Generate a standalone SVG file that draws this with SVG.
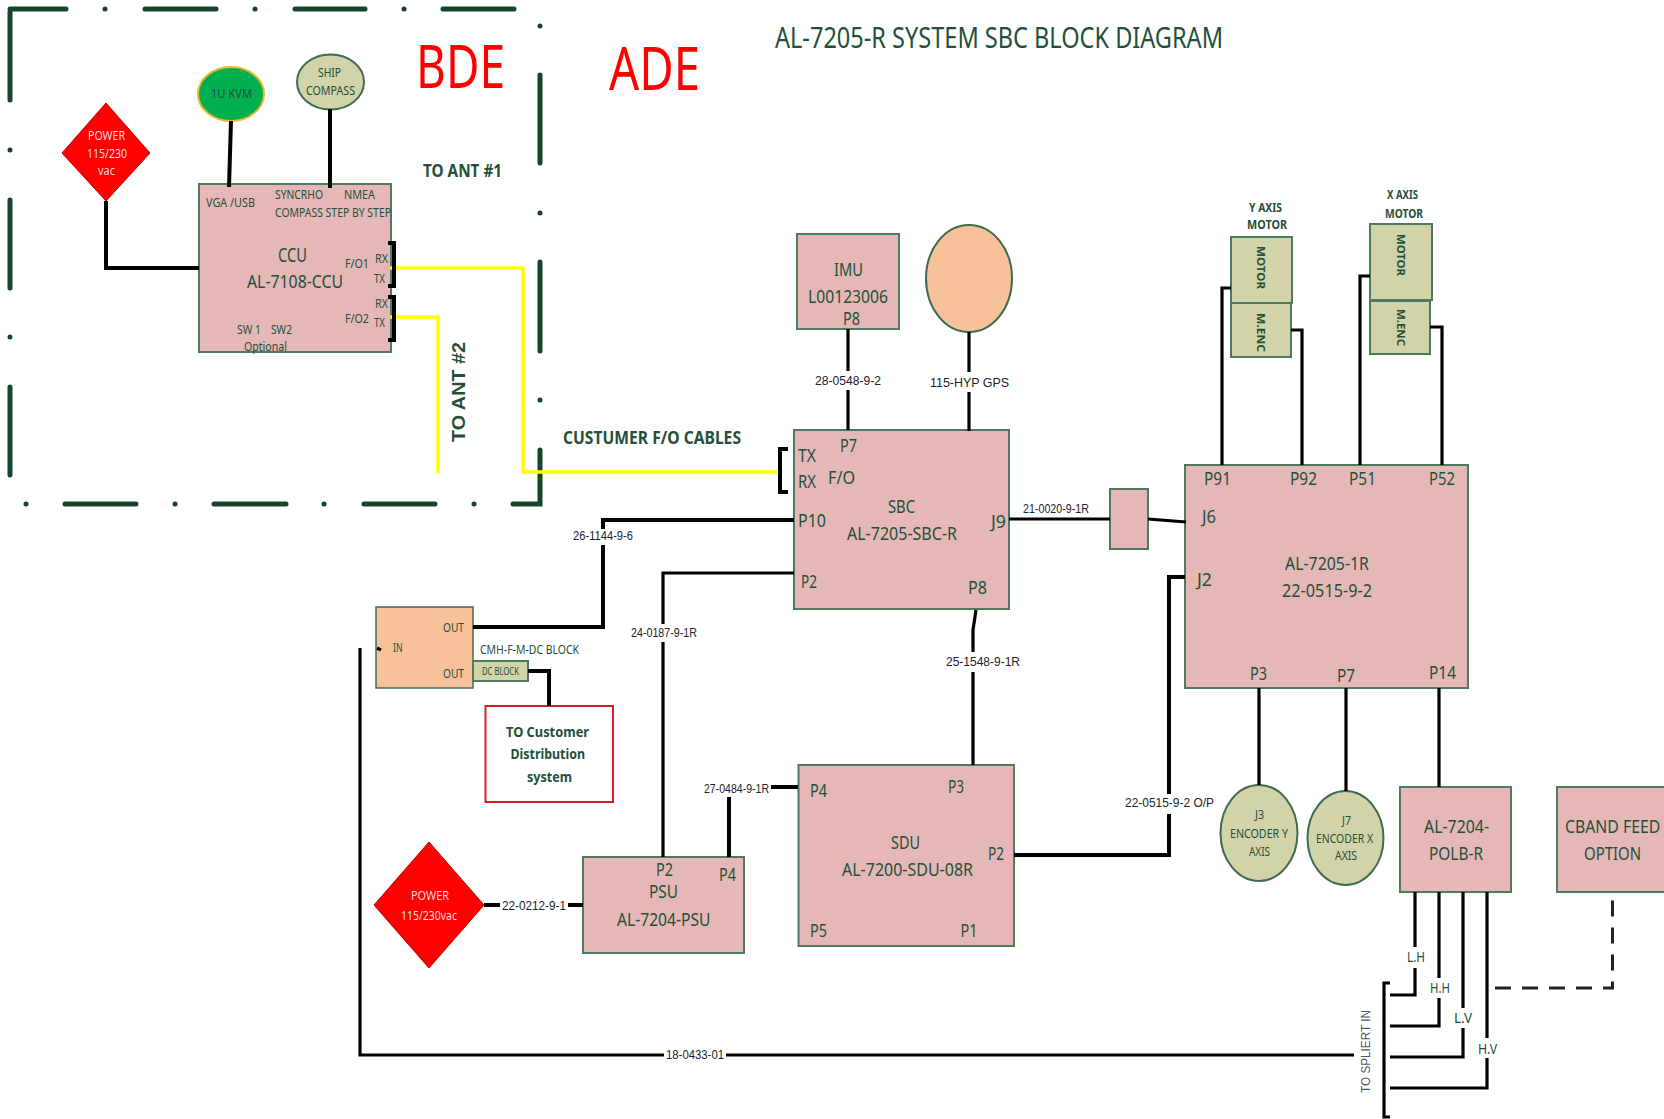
<svg xmlns="http://www.w3.org/2000/svg" width="1664" height="1119" viewBox="0 0 1664 1119">
<style>
text{font-family:"Noto Sans","Open Sans","Liberation Sans",sans-serif;fill:#24503a;font-size:18px}
.b{font-weight:700}
.s11{font-size:11px}.s12{font-size:12px}.s13{font-size:13px}.s15{font-size:15px}
.lbl{font-family:"Liberation Sans",Arial,sans-serif;fill:#1a2430;font-size:13px}
.w{fill:#ffd9de}
.box{fill:#e5b8b7;stroke:#4f7a5f;stroke-width:2}
.olive{fill:#d2d3a8;stroke:#4f7a5f;stroke-width:2}
.peach{fill:#f7c29a;stroke:#3f6b50;stroke-width:2}
.diamond{fill:#ff0000;stroke:#c00000;stroke-width:1}
.frame{fill:none;stroke:#17452b;stroke-width:5;stroke-linecap:round}
.wire{fill:none;stroke:#000;stroke-width:3.2}
.thick{fill:none;stroke:#000;stroke-width:4}
.fo{fill:none;stroke:#ffff00;stroke-width:3.5}
.dash{fill:none;stroke:#222;stroke-width:3;stroke-dasharray:16 11}
</style>

<g id="boundary">
<path class="frame" d="M10,100V12M10,200V288M10,387V475M10,150v.1M10,337v.1M10,9H66M145,9H216M295,9H365M443,9H514M105,9h.1M255,9h.1M404,9h.1M540,26v.1M540,75V163M540,213v.1M540,262V351M540,400v.1M540,450V504H513M26,504h.1M175,504h.1M324,504h.1M474,504h.1M65,504H136M214,504H286M364,504H435"/>
</g>

<g id="titles">
<text x="775" y="48" style="font-size:29px" textLength="448" lengthAdjust="spacingAndGlyphs">AL-7205-R SYSTEM SBC BLOCK DIAGRAM</text>
<text x="416" y="88" style="font-size:60px;fill:#ff0000" textLength="89" lengthAdjust="spacingAndGlyphs">BDE</text>
<text x="609" y="90" style="font-size:60px;fill:#ff0000" textLength="91" lengthAdjust="spacingAndGlyphs">ADE</text>
</g>

<g id="power-bde">
<polygon class="diamond" points="106,103 150,153 106,201 62,153"/>
<text class="s13 w" x="88" y="140" textLength="37" lengthAdjust="spacingAndGlyphs">POWER</text>
<text class="s13 w" x="87" y="158" textLength="40" lengthAdjust="spacingAndGlyphs">115/230</text>
<text class="s13 w" x="98" y="175" textLength="17" lengthAdjust="spacingAndGlyphs">vac</text>
</g>
<g id="kvm">
<ellipse cx="231" cy="94" rx="33" ry="27" fill="#00b050" stroke="#e8b830" stroke-width="2"/>
<text class="s13" x="211" y="98" textLength="41" lengthAdjust="spacingAndGlyphs">1U KVM</text>
</g>
<g id="compass">
<ellipse cx="330.500" cy="82" rx="33.500" ry="27.500" fill="#d2d3a8" stroke="#3f6b50" stroke-width="2"/>
<text class="s13" x="318" y="77" textLength="23" lengthAdjust="spacingAndGlyphs">SHIP</text>
<text class="s13" x="306" y="95" textLength="49" lengthAdjust="spacingAndGlyphs">COMPASS</text>
</g>
<g id="ccu">
<rect class="box" x="199" y="184" width="192" height="168"/>
<text class="s13" x="206" y="207" textLength="49" lengthAdjust="spacingAndGlyphs">VGA /USB</text>
<text class="s13" x="275" y="199" textLength="48" lengthAdjust="spacingAndGlyphs">SYNCRHO</text>
<text class="s13" x="344" y="199" textLength="31" lengthAdjust="spacingAndGlyphs">NMEA</text>
<text class="s13" x="275" y="217" textLength="116" lengthAdjust="spacingAndGlyphs">COMPASS STEP BY STEP</text>
<text x="278" y="262" style="font-size:19px" textLength="29" lengthAdjust="spacingAndGlyphs">CCU</text>
<text transform="translate(247,288) scale(.85,1)" style="font-size:19px" textLength="113" lengthAdjust="spacingAndGlyphs">AL-7108-CCU</text>
<text class="s13" x="345" y="268" textLength="24" lengthAdjust="spacingAndGlyphs">F/O1</text>
<text class="s12" x="375" y="263" textLength="13" lengthAdjust="spacingAndGlyphs">RX</text>
<text class="s12" x="374" y="283" textLength="11" lengthAdjust="spacingAndGlyphs">TX</text>
<text class="s13" x="345" y="323" textLength="24" lengthAdjust="spacingAndGlyphs">F/O2</text>
<text class="s12" x="375" y="308" textLength="13" lengthAdjust="spacingAndGlyphs">RX</text>
<text class="s12" x="374" y="327" textLength="11" lengthAdjust="spacingAndGlyphs">TX</text>
<text class="s13" x="237" y="334" textLength="24" lengthAdjust="spacingAndGlyphs">SW 1</text>
<text class="s13" x="271" y="334" textLength="21" lengthAdjust="spacingAndGlyphs">SW2</text>
<text class="s13" x="244" y="351" textLength="43" lengthAdjust="spacingAndGlyphs">Optional</text>
</g>
<g id="imu">
<rect class="box" x="797" y="234" width="102" height="95"/>
<text x="834" y="276" textLength="29" lengthAdjust="spacingAndGlyphs">IMU</text>
<text x="808" y="303" textLength="80" lengthAdjust="spacingAndGlyphs">L00123006</text>
<text x="843" y="325" textLength="17" lengthAdjust="spacingAndGlyphs">P8</text>
</g>
<g id="gps">
<ellipse class="peach" cx="969" cy="278.500" rx="43" ry="53.500"/>
</g>
<g id="sbc">
<rect class="box" x="794" y="430" width="215" height="179"/>
<text x="840" y="452" textLength="17" lengthAdjust="spacingAndGlyphs">P7</text>
<text x="798" y="462" textLength="18" lengthAdjust="spacingAndGlyphs">TX</text>
<text x="798" y="488" textLength="18" lengthAdjust="spacingAndGlyphs">RX</text>
<text x="828" y="484" textLength="27" lengthAdjust="spacingAndGlyphs">F/O</text>
<text x="798" y="527" textLength="28" lengthAdjust="spacingAndGlyphs">P10</text>
<text x="888" y="513" textLength="27" lengthAdjust="spacingAndGlyphs">SBC</text>
<text x="847" y="540" textLength="110" lengthAdjust="spacingAndGlyphs">AL-7205-SBC-R</text>
<text x="991" y="528" textLength="15" lengthAdjust="spacingAndGlyphs">J9</text>
<text x="801" y="588" textLength="16" lengthAdjust="spacingAndGlyphs">P2</text>
<text x="968" y="594" textLength="19" lengthAdjust="spacingAndGlyphs">P8</text>
</g>
<g id="adapter">
<rect class="box" x="1110" y="489" width="38" height="60"/>
</g>
<g id="al-7205-1r">
<rect class="box" x="1185" y="465" width="283" height="223"/>
<text x="1204" y="485" textLength="27" lengthAdjust="spacingAndGlyphs">P91</text>
<text x="1290" y="485" textLength="27" lengthAdjust="spacingAndGlyphs">P92</text>
<text x="1349" y="485" textLength="27" lengthAdjust="spacingAndGlyphs">P51</text>
<text x="1429" y="485" textLength="26" lengthAdjust="spacingAndGlyphs">P52</text>
<text x="1202" y="523" textLength="14" lengthAdjust="spacingAndGlyphs">J6</text>
<text x="1197" y="586" textLength="15" lengthAdjust="spacingAndGlyphs">J2</text>
<text x="1285" y="570" textLength="84" lengthAdjust="spacingAndGlyphs">AL-7205-1R</text>
<text x="1282" y="597" textLength="90" lengthAdjust="spacingAndGlyphs">22-0515-9-2</text>
<text x="1250" y="680" textLength="17" lengthAdjust="spacingAndGlyphs">P3</text>
<text x="1337" y="682" textLength="18" lengthAdjust="spacingAndGlyphs">P7</text>
<text x="1429" y="679" textLength="27" lengthAdjust="spacingAndGlyphs">P14</text>
</g>
<g id="motor-y">
<text class="s12 b" x="1249" y="212" textLength="33" lengthAdjust="spacingAndGlyphs">Y AXIS</text>
<text class="s12 b" x="1247" y="229" textLength="40" lengthAdjust="spacingAndGlyphs">MOTOR</text>
<rect class="olive" x="1231" y="237" width="61" height="66"/>
<rect class="olive" x="1231" y="303" width="60" height="54"/>
<text class="s11 b" transform="translate(1257,246) rotate(90)" textLength="43" lengthAdjust="spacingAndGlyphs">MOTOR</text>
<text class="s11 b" transform="translate(1257,313) rotate(90)" textLength="39" lengthAdjust="spacingAndGlyphs">M.ENC</text>
</g>
<g id="motor-x">
<text class="s12 b" x="1387" y="199" textLength="31" lengthAdjust="spacingAndGlyphs">X AXIS</text>
<text class="s12 b" x="1385" y="218" textLength="38" lengthAdjust="spacingAndGlyphs">MOTOR</text>
<rect class="olive" x="1370" y="224" width="62" height="76"/>
<rect class="olive" x="1370" y="301" width="60" height="53"/>
<text class="s11 b" transform="translate(1397,234) rotate(90)" textLength="42" lengthAdjust="spacingAndGlyphs">MOTOR</text>
<text class="s11 b" transform="translate(1397,309) rotate(90)" textLength="37" lengthAdjust="spacingAndGlyphs">M.ENC</text>
</g>
<g id="splitter">
<rect x="376" y="607" width="97" height="81" fill="#f7c29a" stroke="#3f6b50" stroke-width="1.500"/>
<text class="s13" x="443" y="632" textLength="21" lengthAdjust="spacingAndGlyphs">OUT</text>
<text class="s13" x="393" y="652" textLength="9.500" lengthAdjust="spacingAndGlyphs">IN</text>
<text class="s13" x="443" y="678" textLength="21" lengthAdjust="spacingAndGlyphs">OUT</text>
</g>
<g id="dc-block">
<text class="s13" x="480" y="654" textLength="99" lengthAdjust="spacingAndGlyphs">CMH-F-M-DC BLOCK</text>
<rect class="olive" x="473" y="661" width="55" height="20"/>
<text class="s11" x="482" y="675" textLength="37" lengthAdjust="spacingAndGlyphs">DC BLOCK</text>
</g>
<g id="customer">
<rect x="485.500" y="706" width="127.500" height="96" fill="#fff" stroke="#d0202c" stroke-width="2"/>
<text class="b s15" x="506" y="737" textLength="83" lengthAdjust="spacingAndGlyphs">TO Customer</text>
<text class="b s15" x="510.500" y="759" textLength="74.500" lengthAdjust="spacingAndGlyphs">Distribution</text>
<text class="b s15" x="527" y="782" textLength="45" lengthAdjust="spacingAndGlyphs">system</text>
</g>
<g id="power-ade">
<polygon class="diamond" points="429,842 484,905 429,968 374,905"/>
<text class="s13 w" x="411" y="900" textLength="38" lengthAdjust="spacingAndGlyphs">POWER</text>
<text class="s13 w" x="401" y="920" textLength="56" lengthAdjust="spacingAndGlyphs">115/230vac</text>
</g>
<g id="psu">
<rect class="box" x="583" y="857" width="161" height="96"/>
<text x="656" y="876" textLength="17" lengthAdjust="spacingAndGlyphs">P2</text>
<text x="719" y="881" textLength="17" lengthAdjust="spacingAndGlyphs">P4</text>
<text x="649" y="898" textLength="29" lengthAdjust="spacingAndGlyphs">PSU</text>
<text x="617" y="926" textLength="93.500" lengthAdjust="spacingAndGlyphs">AL-7204-PSU</text>
</g>
<g id="sdu">
<rect class="box" x="798.500" y="765" width="215.500" height="181"/>
<text x="810" y="797" textLength="17" lengthAdjust="spacingAndGlyphs">P4</text>
<text x="948" y="793" textLength="16" lengthAdjust="spacingAndGlyphs">P3</text>
<text x="891" y="849" textLength="29" lengthAdjust="spacingAndGlyphs">SDU</text>
<text x="842" y="876" textLength="131" lengthAdjust="spacingAndGlyphs">AL-7200-SDU-08R</text>
<text x="988" y="860" textLength="16" lengthAdjust="spacingAndGlyphs">P2</text>
<text x="810" y="937" textLength="17" lengthAdjust="spacingAndGlyphs">P5</text>
<text x="960.500" y="937" textLength="17" lengthAdjust="spacingAndGlyphs">P1</text>
</g>
<g id="encoder-y">
<ellipse cx="1259" cy="833" rx="38.500" ry="48" fill="#d2d3a8" stroke="#3f6b50" stroke-width="2"/>
<text class="s12" x="1255" y="819" textLength="9" lengthAdjust="spacingAndGlyphs">J3</text>
<text class="s12" x="1230" y="838" textLength="58" lengthAdjust="spacingAndGlyphs">ENCODER Y</text>
<text class="s12" x="1249" y="856" textLength="21" lengthAdjust="spacingAndGlyphs">AXIS</text>
</g>
<g id="encoder-x">
<ellipse cx="1345.500" cy="838" rx="38" ry="47" fill="#d2d3a8" stroke="#3f6b50" stroke-width="2"/>
<text class="s12" x="1342" y="825" textLength="9" lengthAdjust="spacingAndGlyphs">J7</text>
<text class="s12" x="1316" y="843" textLength="57" lengthAdjust="spacingAndGlyphs">ENCODER X</text>
<text class="s12" x="1335" y="860" textLength="22" lengthAdjust="spacingAndGlyphs">AXIS</text>
</g>
<g id="polb">
<rect class="box" x="1400" y="787" width="111" height="105"/>
<text x="1424" y="833" textLength="65" lengthAdjust="spacingAndGlyphs">AL-7204-</text>
<text x="1429" y="860" textLength="54" lengthAdjust="spacingAndGlyphs">POLB-R</text>
</g>
<g id="cband">
<rect class="box" x="1557" y="787" width="112" height="105"/>
<text transform="translate(1565,833) scale(.866,1)" textLength="110" lengthAdjust="spacingAndGlyphs">CBAND FEED</text>
<text x="1584" y="860" textLength="57" lengthAdjust="spacingAndGlyphs">OPTION</text>
</g>

<g id="connectors">
<path class="thick" d="M231,121L229,187M330,109V188M106,201V268H199"/>
<path class="fo" d="M390,268H523V472H780M390,317H438V473"/>
<path class="thick" d="M388,243H394V286H388M388,297H394V340H388M788,449H780V492H788"/>
<path class="wire" d="M848,329V371M848,390V430M969,332V372M969,392V431"/>
<path class="thick" d="M794,520H603V529M603,545V627H473"/>
<path class="wire" d="M794,573H663V624M663,642V857"/>
<path class="wire" d="M976,610L973,630V652M973,672V765"/>
<path class="wire" d="M1009,519H1110M1148,519L1186,522"/>
<path class="thick" d="M771,787H798M729,797V857"/>
<path class="thick" d="M484,905H500M568,905H583"/>
<path class="thick" d="M528,671H549V706"/>
<path class="wire" d="M377,648L381,650"/>
<path class="thick" d="M1014,855H1169V814M1169,794V577H1185"/>
<path class="wire" d="M360,648V1055H664M726,1055H1354"/>
<path class="wire" d="M1222,465V288H1231M1302,465V330H1291M1360,465V276H1370M1442,465V327H1430"/>
<path class="wire" d="M1259,688V785M1346,688V791M1439,688V787"/>
<path class="wire" d="M1415,892V947M1415,968V995H1390M1439,892V978M1439,998V1026H1390M1463,892V1008M1463,1028V1057H1390M1487,892V1038M1487,1058V1088H1390"/>
<path class="wire" d="M1390,983H1384V1117H1390"/>
<path class="dash" d="M1495,988H1612.500V892"/>
<text class="lbl" x="815" y="385" textLength="66" lengthAdjust="spacingAndGlyphs">28-0548-9-2</text>
<text class="lbl" x="930" y="387" textLength="79" lengthAdjust="spacingAndGlyphs">115-HYP  GPS</text>
<text class="lbl s12" x="1023" y="513" textLength="66" lengthAdjust="spacingAndGlyphs">21-0020-9-1R</text>
<text class="lbl s12" x="573" y="540" textLength="60" lengthAdjust="spacingAndGlyphs">26-1144-9-6</text>
<text class="lbl s12" x="631" y="637" textLength="66" lengthAdjust="spacingAndGlyphs">24-0187-9-1R</text>
<text class="lbl" x="946" y="666" textLength="74" lengthAdjust="spacingAndGlyphs">25-1548-9-1R</text>
<text class="lbl s12" x="704" y="793" textLength="65" lengthAdjust="spacingAndGlyphs">27-0484-9-1R</text>
<text class="lbl" x="502" y="910" textLength="64" lengthAdjust="spacingAndGlyphs">22-0212-9-1</text>
<text class="lbl" x="1125" y="807" textLength="89" lengthAdjust="spacingAndGlyphs">22-0515-9-2 O/P</text>
<text class="lbl s12" x="666" y="1059" textLength="58" lengthAdjust="spacingAndGlyphs">18-0433-01</text>
<text class="s15" x="1407" y="962" textLength="18" lengthAdjust="spacingAndGlyphs">L.H</text>
<text class="s15" x="1430" y="993" textLength="20" lengthAdjust="spacingAndGlyphs">H.H</text>
<text class="s15" x="1454" y="1023" textLength="18" lengthAdjust="spacingAndGlyphs">L.V</text>
<text class="s15" x="1478" y="1054" textLength="19" lengthAdjust="spacingAndGlyphs">H.V</text>
<text class="lbl s11" style="fill:#4c5a68" transform="translate(1370,1093) rotate(-90)" textLength="83" lengthAdjust="spacingAndGlyphs">TO SPLIERT IN</text>
<text class="b" x="563" y="444" textLength="178" lengthAdjust="spacingAndGlyphs">CUSTUMER F/O CABLES</text>
<text class="b" x="423" y="177" textLength="79" lengthAdjust="spacingAndGlyphs">TO ANT #1</text>
<text class="lbl" style="font-size:19px;fill:#24503a;font-weight:700" transform="translate(465,442) rotate(-90)" textLength="100" lengthAdjust="spacingAndGlyphs">TO ANT #2</text>
</g>
</svg>
